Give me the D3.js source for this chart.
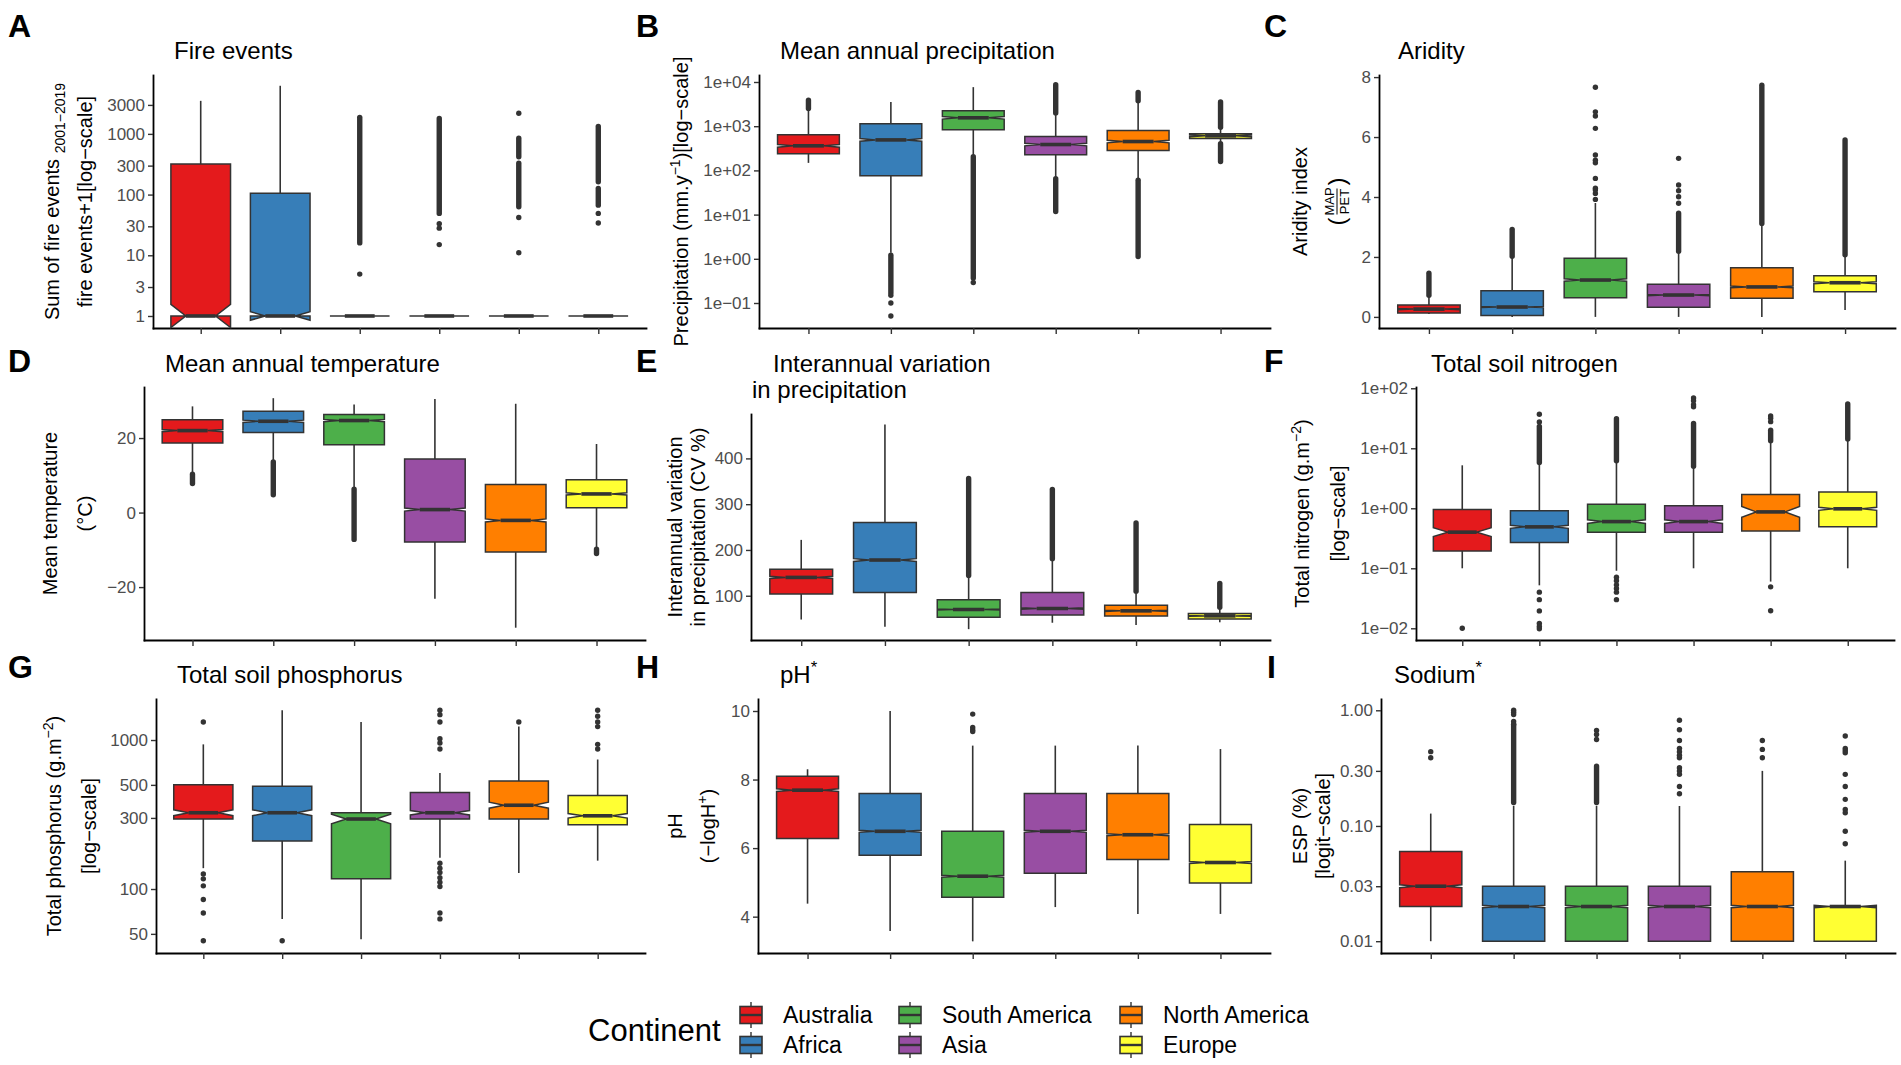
<!DOCTYPE html>
<html lang="en">
<head>
<meta charset="UTF-8">
<title>Environmental variables by continent</title>
<script src="https://cdn.jsdelivr.net/npm/d3@7"></script>
<style>
  body { margin: 0; background: #fff; }
  svg text { font-family: "Liberation Sans", Arial, sans-serif; }
</style>
</head>
<body>
<div id="chart"></div>
<script>

// categories and colours
const continents = ["Australia", "Africa", "South America", "Asia", "North America", "Europe"];
const colors = ["#E41A1C", "#377EB8", "#4DAF4A", "#984EA3", "#FF7F00", "#FFFF33"];

// A: fire events + 1
const fireQ1 = [1, 1, 1, 1, 1, 1];
const fireMed = [1, 1, 1, 1, 1, 1];
const fireQ3 = [319, 105, 1, 1, 1, 1];
const fireLo = [1, 1, 1, 1, 1, 1];
const fireHi = [3500, 6200, 1, 1, 1, 1];
const fireNotch = [0.19, 0.07, 0, 0, 0, 0];
const fireOut = [[], [], [4.9], [33, 28, 15], [2190, 42, 11], [49, 34]];
const fireRuns = [[], [], [[16, 1870]], [[49, 1800]], [[420, 850], [63, 328]], [[163, 1320], [67, 126]]];
const fireTicks = [1, 3, 10, 30, 100, 300, 1000, 3000];
const fireLabels = ["1", "3", "10", "30", "100", "300", "1000", "3000"];

// B: mean annual precipitation (mm/y)
const precQ1 = [238, 76, 830, 225, 283, 527];
const precMed = [360, 490, 1550, 385, 450, 605];
const precQ3 = [640, 1130, 2230, 585, 800, 675];
const precLo = [148, 1.37, 225, 67, 61, 415];
const precHi = [2450, 3550, 7650, 1950, 3600, 910];
const precNotch = [0.03, 0.03, 0.03, 0.03, 0.03, 0.02];
const precOut = [[], [0.15, 0.10, 0.051], [0.29], [], [], []];
const precRuns = [[[2500, 3900]], [[0.17, 1.2]], [[0.37, 204]], [[2000, 8700], [11.8, 65]], [[3750, 5800], [1.13, 60]], [[950, 3550], [158, 400]]];
const precTicks = [0.1, 1, 10, 100, 1000, 10000];
const precLabels = ["1e\u221201", "1e+00", "1e+01", "1e+02", "1e+03", "1e+04"];

// C: aridity index
const aridQ1 = [0.13, 0.05, 0.64, 0.32, 0.62, 0.84];
const aridMed = [0.26, 0.33, 1.23, 0.73, 1.0, 1.14];
const aridQ3 = [0.40, 0.87, 1.96, 1.09, 1.64, 1.37];
const aridLo = [0.1, 0, 0, 0, 0, 0.23];
const aridHi = [0.70, 2.0, 3.8, 2.17, 3.1, 2.05];
const aridNotch = [0.02, 0.02, 0.04, 0.02, 0.03, 0.03];
const aridOut = [[], [], [3.92, 4.12, 4.23, 4.29, 4.62, 5.14, 5.23, 5.4, 6.29, 6.7, 6.84, 7.66], [3.79, 4.01, 4.21, 4.4, 5.29], [], []];
const aridRuns = [[[0.72, 1.46]], [[2.02, 2.92]], [], [[2.19, 3.46]], [[3.12, 7.73]], [[2.07, 5.9]]];
const aridTicks = [0, 2, 4, 6, 8];
const aridLabels = ["0", "2", "4", "6", "8"];

// D: mean annual temperature (°C)
const tempQ1 = [18.7, 21.5, 18.2, -7.9, -10.6, 1.3];
const tempMed = [22.0, 24.5, 24.7, 0.8, -2.1, 5.0];
const tempQ3 = [24.9, 27.2, 26.3, 14.4, 7.5, 8.8];
const tempLo = [10.6, 13.9, 6.6, -23.1, -30.9, -9.5];
const tempHi = [28.5, 30.7, 29.0, 30.5, 29.2, 18.4];
const tempNotch = [0.3, 0.3, 0.3, 0.4, 0.4, 0.3];
const tempOut = [[], [], [], [], [], []];
const tempRuns = [[[7.8, 10.3]], [[4.8, 13.6]], [[-7.2, 6.3]], [], [], [[-11.0, -9.8]]];
const tempTicks = [-20, 0, 20];
const tempLabels = ["\u221220", "0", "20"];

// E: interannual variation in precipitation (CV %)
const cvQ1 = [104, 107, 53, 58, 56, 49];
const cvMed = [140, 178, 70, 72, 67, 56];
const cvQ3 = [158, 260, 91, 107, 79, 61];
const cvLo = [48, 32, 27, 41, 36, 42];
const cvHi = [222, 474, 141, 178, 107, 72];
const cvNotch = [2.5, 3, 1.2, 1.5, 1.2, 1];
const cvOut = [[], [], [], [], [], []];
const cvRuns = [[], [], [[144, 356]], [[181, 332]], [[110, 259]], [[75, 127]]];
const cvTicks = [100, 200, 300, 400];
const cvLabels = ["100", "200", "300", "400"];

// F: total soil nitrogen (g/m2)
const nitQ1 = [0.195, 0.27, 0.40, 0.40, 0.42, 0.49];
const nitMed = [0.40, 0.49, 0.60, 0.60, 0.87, 0.98];
const nitQ3 = [0.95, 0.91, 1.17, 1.10, 1.70, 1.86];
const nitLo = [0.1, 0.052, 0.091, 0.1, 0.060, 0.1];
const nitHi = [5.2, 5.6, 6.0, 4.9, 12.9, 13.8];
const nitNotch = [0.075, 0.025, 0.03, 0.03, 0.09, 0.025];
const nitOut = [[0.01], [37, 27.5, 0.040, 0.030, 0.0195, 0.012, 0.0107, 0.0098], [0.071, 0.062, 0.053, 0.046, 0.040, 0.030], [69, 62, 53, 49], [34.5, 31.6, 27.8, 0.049, 0.0196], []];
const nitRuns = [[], [[5.8, 23]], [[6.2, 31]], [[5.0, 26]], [[13.3, 20]], [[14.3, 55]]];
const nitTicks = [0.01, 0.1, 1, 10, 100];
const nitLabels = ["1e\u221202", "1e\u221201", "1e+00", "1e+01", "1e+02"];

// G: total soil phosphorus (g/m2)
const phoQ1 = [295, 210, 117, 295, 295, 270];
const phoMed = [325, 325, 295, 325, 365, 310];
const phoQ3 = [500, 490, 325, 445, 530, 425];
const phoLo = [138, 63, 46, 162, 128, 155];
const phoHi = [935, 1585, 1320, 600, 1230, 740];
const phoNotch = [0.02, 0.02, 0.032, 0.015, 0.02, 0.015];
const phoOut = [[1320, 126, 117, 105, 85, 69, 45], [45], [], [1585, 1480, 1320, 1020, 955, 870, 149, 138, 129, 119, 111, 104, 69, 63], [1320], [1585, 1445, 1320, 1230, 935, 870]];
const phoRuns = [[], [], [], [], [], []];
const phoTicks = [50, 100, 300, 500, 1000];
const phoLabels = ["50", "100", "300", "500", "1000"];

// H: pH
const phQ1 = [6.28, 5.79, 4.57, 5.27, 5.67, 4.98];
const phMed = [7.69, 6.49, 5.18, 6.49, 6.39, 5.58];
const phQ3 = [8.10, 7.59, 6.49, 7.59, 7.59, 6.69];
const phLo = [4.38, 3.58, 3.28, 4.28, 4.08, 4.08];
const phHi = [8.30, 10.0, 8.99, 8.99, 8.99, 8.89];
const phNotch = [0.04, 0.03, 0.03, 0.03, 0.03, 0.03];
const phOut = [[], [], [9.91, 9.52, 9.45, 9.40], [], [], []];
const phRuns = [[], [], [], [], [], []];
const phTicks = [4, 6, 8, 10];
const phLabels = ["4", "6", "8", "10"];

// I: exchangeable sodium percentage
const espQ1 = [0.020, 0.01, 0.01, 0.01, 0.01, 0.01];
const espMed = [0.030, 0.020, 0.020, 0.020, 0.020, 0.020];
const espQ3 = [0.060, 0.030, 0.030, 0.030, 0.040, 0.020];
const espLo = [0.01, 0.01, 0.01, 0.01, 0.01, 0.01];
const espHi = [0.128, 0.150, 0.150, 0.149, 0.30, 0.050];
const espNotch = [0.03, 0.025, 0.025, 0.025, 0.025, 0.025];
const espOut = [[0.44, 0.39], [1.0, 0.96, 0.92, 0.80, 0.76], [0.67, 0.62, 0.56], [0.82, 0.68, 0.55, 0.47, 0.44, 0.41, 0.39, 0.32, 0.30, 0.28, 0.22, 0.19], [0.55, 0.46, 0.39], [0.60, 0.47, 0.45, 0.43, 0.28, 0.22, 0.17, 0.139, 0.13, 0.090, 0.070]];
const espRuns = [[], [[0.16, 0.75]], [[0.16, 0.33]], [], [], []];
const espTicks = [0.01, 0.03, 0.10, 0.30, 1.00];
const espLabels = ["0.01", "0.03", "0.10", "0.30", "1.00"];

// scale transforms
const transforms = {
  linear: { tf: v => v },
  log: { tf: v => Math.log10(v) },
  logit: { tf: v => Math.log((v / 100) / (1 - v / 100)) }
};

const panels = [
  { letter: "A", title: ["Fire events"], type: "log", domain: [0.634, 9330],
    q1: fireQ1, med: fireMed, q3: fireQ3, lo: fireLo, hi: fireHi, notch: fireNotch, out: fireOut, runs: fireRuns, ticks: fireTicks, labels: fireLabels,
    ylab: [[["Sum of fire events ", ""], ["2001\u22122019", "sub"]], [["fire events+1[log\u2212scale]", ""]]] },
  { letter: "B", title: ["Mean annual precipitation"], type: "log", domain: [0.0272, 14400],
    q1: precQ1, med: precMed, q3: precQ3, lo: precLo, hi: precHi, notch: precNotch, out: precOut, runs: precRuns, ticks: precTicks, labels: precLabels,
    ylab: [[["Precipitation (mm.y", ""], ["\u22121", "sup"], [")[log\u2212scale]", ""]]] },
  { letter: "C", title: ["Aridity"], type: "linear", domain: [-0.37, 8.07],
    q1: aridQ1, med: aridMed, q3: aridQ3, lo: aridLo, hi: aridHi, notch: aridNotch, out: aridOut, runs: aridRuns, ticks: aridTicks, labels: aridLabels,
    ylab: [[["Aridity index", ""]], [["MAP|PET", "frac"]]] },
  { letter: "D", title: ["Mean annual temperature"], type: "linear", domain: [-34.2, 33.7],
    q1: tempQ1, med: tempMed, q3: tempQ3, lo: tempLo, hi: tempHi, notch: tempNotch, out: tempOut, runs: tempRuns, ticks: tempTicks, labels: tempLabels,
    ylab: [[["Mean temperature", ""]], [["(\u00B0C)", ""]]] },
  { letter: "E", title: ["Interannual variation", "in precipitation"], type: "linear", domain: [3.3, 497],
    q1: cvQ1, med: cvMed, q3: cvQ3, lo: cvLo, hi: cvHi, notch: cvNotch, out: cvOut, runs: cvRuns, ticks: cvTicks, labels: cvLabels,
    ylab: [[["Interannual variation", ""]], [["in precipitation (CV %)", ""]]] },
  { letter: "F", title: ["Total soil nitrogen"], type: "log", domain: [0.00638, 105],
    q1: nitQ1, med: nitMed, q3: nitQ3, lo: nitLo, hi: nitHi, notch: nitNotch, out: nitOut, runs: nitRuns, ticks: nitTicks, labels: nitLabels,
    ylab: [[["Total nitrogen (g.m", ""], ["\u22122", "sup"], [")", ""]], [["[log\u2212scale]", ""]]] },
  { letter: "G", title: ["Total soil phosphorus"], type: "log", domain: [37.2, 1885],
    q1: phoQ1, med: phoMed, q3: phoQ3, lo: phoLo, hi: phoHi, notch: phoNotch, out: phoOut, runs: phoRuns, ticks: phoTicks, labels: phoLabels,
    ylab: [[["Total phosphorus (g.m", ""], ["\u22122", "sup"], [")", ""]], [["[log\u2212scale]", ""]]] },
  { letter: "H", title: ["pH*"], type: "linear", domain: [2.94, 10.35],
    q1: phQ1, med: phMed, q3: phQ3, lo: phLo, hi: phHi, notch: phNotch, out: phOut, runs: phRuns, ticks: phTicks, labels: phLabels,
    ylab: [[["pH", ""]], [["(\u2212logH", ""], ["+", "sup"], [")", ""]]] },
  { letter: "I", title: ["Sodium*"], type: "logit", domain: [0.0079, 1.25],
    q1: espQ1, med: espMed, q3: espQ3, lo: espLo, hi: espHi, notch: espNotch, out: espOut, runs: espRuns, ticks: espTicks, labels: espLabels,
    ylab: [[["ESP (%)", ""]], [["[logit\u2212scale]", ""]]] }
];

// panel positions in the page
const layout = {
  A: { left: 153, right: 646, top: 75, bottom: 328, letter: [8, 37], title: [[174, 59]], ylab: [52, 85] },
  B: { left: 759, right: 1270, top: 75, bottom: 328, letter: [636, 37], title: [[780, 59]], ylab: [681] },
  C: { left: 1379, right: 1895, top: 75, bottom: 328, letter: [1264, 37], title: [[1398, 59]], ylab: [1300, 1337] },
  D: { left: 144, right: 645, top: 387, bottom: 640, letter: [8, 372], title: [[165, 372]], ylab: [50, 85] },
  E: { left: 751, right: 1270, top: 414, bottom: 640, letter: [636, 372], title: [[773, 372], [752, 398]], ylab: [675, 698] },
  F: { left: 1416, right: 1894, top: 387, bottom: 640, letter: [1264, 372], title: [[1431, 372]], ylab: [1302, 1338] },
  G: { left: 156, right: 645, top: 699, bottom: 953, letter: [8, 678], title: [[177, 683]], ylab: [54, 89] },
  H: { left: 758, right: 1270, top: 699, bottom: 953, letter: [636, 678], title: [[780, 683]], ylab: [675, 708] },
  I: { left: 1381, right: 1895, top: 699, bottom: 953, letter: [1267, 678], title: [[1394, 683]], ylab: [1300, 1323] }
};

const ink = "#333333";
const svg = d3.select("#chart").append("svg")
  .attr("width", 1901).attr("height", 1065)
  .style("background", "#fff");

// text with sub/superscript pieces
function richText(sel, segs, fs) {
  let shift = 0;
  segs.forEach(([t, k]) => {
    const target = k === "sup" ? -0.42 * fs : k === "sub" ? 0.28 * fs : 0;
    const ts = sel.append("tspan").attr("dy", target - shift).text(t);
    if (k) ts.attr("font-size", fs * 0.7);
    shift = target;
  });
}

function drawPanel(p) {
  const L = layout[p.letter];
  const tf = transforms[p.type].tf;
  const y = d3.scaleLinear().domain(p.domain.map(tf)).range([L.bottom, L.top]);
  const Y = v => y(tf(v));
  const x = d3.scalePoint().domain(continents).range([L.left, L.right]).padding(0.6);
  const bw = x.step() * 0.75;
  const g = svg.append("g");

  // letter + title
  g.append("text").attr("x", L.letter[0]).attr("y", L.letter[1])
    .attr("font-size", 32).attr("font-weight", "bold").text(p.letter);
  p.title.forEach((t, i) => {
    const tt = g.append("text").attr("x", L.title[i][0]).attr("y", L.title[i][1]).attr("font-size", 24);
    if (t.endsWith("*")) richText(tt, [[t.slice(0, -1), ""], ["*", "sup"]], 24);
    else tt.text(t);
  });

  // y axis title
  const ymid = (L.top + L.bottom) / 2;
  p.ylab.forEach((line, i) => {
    const lg = g.append("g").attr("transform", `translate(${L.ylab[i]},${ymid}) rotate(-90)`);
    if (line[0][1] === "frac") {
      const [num, den] = line[0][0].split("|");
      lg.append("text").attr("x", -20).attr("y", 8).attr("font-size", 24).attr("text-anchor", "middle").text("(");
      lg.append("text").attr("x", 20).attr("y", 8).attr("font-size", 24).attr("text-anchor", "middle").text(")");
      lg.append("text").attr("x", 0).attr("y", -3).attr("font-size", 13).attr("text-anchor", "middle").text(num);
      lg.append("text").attr("x", 0).attr("y", 12).attr("font-size", 13).attr("text-anchor", "middle").text(den);
      lg.append("line").attr("x1", -13).attr("x2", 13).attr("y1", 0).attr("y2", 0).attr("stroke", "#000").attr("stroke-width", 1);
    } else {
      const t = lg.append("text").attr("text-anchor", "middle").attr("y", 7).attr("font-size", 20);
      richText(t, line, 20);
    }
  });

  // axes
  const yAxis = d3.axisLeft(y)
    .tickValues(p.ticks.map(tf))
    .tickFormat((d, i) => p.labels[i])
    .tickSize(5).tickSizeOuter(0).tickPadding(3);
  const ga = g.append("g").attr("transform", `translate(${L.left},0)`).call(yAxis)
    .attr("font-size", 17).attr("font-family", "'Liberation Sans', Arial, sans-serif");
  ga.select(".domain").attr("stroke", "#000").attr("stroke-width", 1.8).attr("stroke-linecap", "square");
  ga.selectAll(".tick line").attr("stroke", ink).attr("stroke-width", 1.4);
  ga.selectAll(".tick text").attr("fill", "#4D4D4D");

  const xAxis = d3.axisBottom(x).tickSize(6).tickSizeOuter(0).tickFormat(() => "");
  const gx = g.append("g").attr("transform", `translate(0,${L.bottom})`).call(xAxis);
  gx.select(".domain").attr("stroke", "#000").attr("stroke-width", 1.8).attr("stroke-linecap", "square");
  gx.selectAll(".tick line").attr("stroke", ink).attr("stroke-width", 1.4);

  const marks = g.append("g");
  continents.forEach((c, i) => {
    const cx = x(c);
    // dense outlier columns
    p.runs[i].forEach(r => {
      marks.append("line").attr("x1", cx).attr("x2", cx).attr("y1", Y(r[0])).attr("y2", Y(r[1]))
        .attr("stroke", ink).attr("stroke-width", 5.4).attr("stroke-linecap", "round");
    });
    // single outliers
    marks.selectAll(null).data(p.out[i]).enter().append("circle")
      .attr("cx", cx).attr("cy", d => Y(d)).attr("r", 2.7).attr("fill", ink);
    // whiskers
    marks.append("line").attr("x1", cx).attr("x2", cx).attr("y1", Y(p.q3[i])).attr("y2", Y(p.hi[i]))
      .attr("stroke", ink).attr("stroke-width", 1.6);
    marks.append("line").attr("x1", cx).attr("x2", cx).attr("y1", Y(p.q1[i])).attr("y2", Y(p.lo[i]))
      .attr("stroke", ink).attr("stroke-width", 1.6);
    // notched box
    const mt = tf(p.med[i]);
    const nhi = y(mt + p.notch[i]), nlo = y(mt - p.notch[i]), ym = y(mt);
    const x0 = cx - bw / 2, x1 = cx + bw / 2, ind = bw * 0.25;
    const pts = [
      [x0, Y(p.q3[i])], [x0, nhi], [x0 + ind, ym], [x0, nlo], [x0, Y(p.q1[i])],
      [x1, Y(p.q1[i])], [x1, nlo], [x1 - ind, ym], [x1, nhi], [x1, Y(p.q3[i])]
    ];
    marks.append("path").attr("d", d3.line()(pts) + "Z")
      .attr("fill", colors[i]).attr("stroke", ink).attr("stroke-width", 1.5).attr("stroke-linejoin", "miter");
    marks.append("line").attr("x1", x0 + ind).attr("x2", x1 - ind).attr("y1", ym).attr("y2", ym)
      .attr("stroke", ink).attr("stroke-width", 3.6);
  });
}

panels.forEach(drawPanel);

// legend
const legend = svg.append("g");
legend.append("text").attr("x", 588).attr("y", 1041).attr("font-size", 31).text("Continent");
const legCols = [740, 899, 1120];
const legRows = [1015, 1045];
continents.forEach((c, i) => {
  const kx = legCols[Math.floor(i / 2)], ky = legRows[i % 2];
  const k = legend.append("g").attr("transform", `translate(${kx},${ky})`);
  k.append("line").attr("x1", 11).attr("x2", 11).attr("y1", -13).attr("y2", 13).attr("stroke", ink).attr("stroke-width", 1.4);
  k.append("rect").attr("x", 0).attr("y", -8.5).attr("width", 22).attr("height", 17)
    .attr("fill", colors[i]).attr("stroke", ink).attr("stroke-width", 1.6);
  k.append("line").attr("x1", 0).attr("x2", 22).attr("y1", 0).attr("y2", 0).attr("stroke", ink).attr("stroke-width", 2.4);
  legend.append("text").attr("x", kx + 43).attr("y", ky + 8).attr("font-size", 23).text(c);
});

</script>
</body>
</html>
